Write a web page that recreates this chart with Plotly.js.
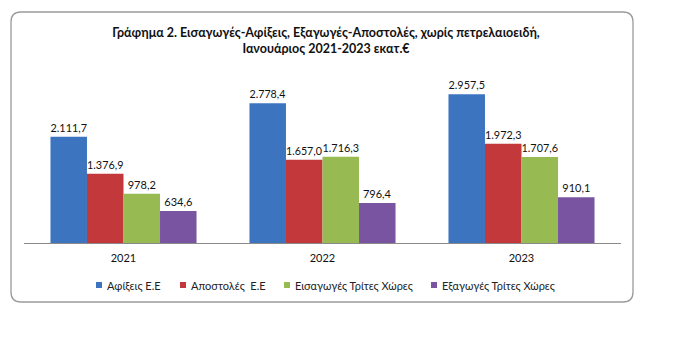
<!DOCTYPE html>
<html>
<head>
<meta charset="utf-8">
<script src="https://cdn.plot.ly/plotly-3.0.1.min.js"></script>
<style>html,body{margin:0;padding:0;background:#fff;}#chart{width:681px;height:357px;}</style>
</head>
<body>
<div id="chart"></div>
<script>
const years = ['2021', '2022', '2023'];
const seriesNames = ['Αφίξεις Ε.Ε', 'Αποστολές  Ε.Ε', 'Εισαγωγές Τρίτες Χώρες', 'Εξαγωγές Τρίτες Χώρες'];
const arrivalsEU = [2111.7, 2778.4, 2957.5];
const dispatchesEU = [1376.9, 1657.0, 1972.3];
const importsThird = [978.2, 1716.3, 1707.6];
const exportsThird = [634.6, 796.4, 910.1];
const seriesValues = [arrivalsEU, dispatchesEU, importsThird, exportsThird];
const colors = ['#3C74C0', '#C3393B', '#98BA53', '#7954A0'];
const titleText = 'Γράφημα 2. Εισαγωγές-Αφίξεις, Εξαγωγές-Αποστολές, χωρίς πετρελαιοειδή,<br>Ιανουάριος 2021-2023 εκατ.€';

const FONT = 'Lato, "Open Sans", sans-serif';
// plot area in pixels
const L = 24, R = 621, T = 82, B = 243, W = 681, H = 357;
const px2x = p => (p - L) / (R - L);
const py2y = p => (B - p) / (B - T);

function fmt(v) {
  const parts = v.toFixed(1).split('.');
  const intPart = parts[0].replace(/\B(?=(\d{3})+(?!\d))/g, '.');
  return intPart + ',' + parts[1];
}

const traces = seriesValues.map((vals, i) => ({
  type: 'bar',
  name: seriesNames[i],
  x: years,
  y: vals,
  marker: {color: colors[i], line: {width: 0}},
  text: vals.map(fmt),
  textposition: 'outside',
  textfont: {family: FONT, size: 11, color: '#111'},
  cliponaxis: false,
  showlegend: false,
  hoverinfo: 'skip'
}));

// rounded border path (paper coordinates)
const bx0 = 11, bx1 = 633, by0 = 12, by1 = 302, rad = 10;
const P = (x, y) => px2x(x).toFixed(5) + ',' + py2y(y).toFixed(5);
const borderPath = 'M' + P(bx0 + rad, by0) + ' L' + P(bx1 - rad, by0) +
  ' Q' + P(bx1, by0) + ' ' + P(bx1, by0 + rad) +
  ' L' + P(bx1, by1 - rad) +
  ' Q' + P(bx1, by1) + ' ' + P(bx1 - rad, by1) +
  ' L' + P(bx0 + rad, by1) +
  ' Q' + P(bx0, by1) + ' ' + P(bx0, by1 - rad) +
  ' L' + P(bx0, by0 + rad) +
  ' Q' + P(bx0, by0) + ' ' + P(bx0 + rad, by0) + ' Z';

const shapes = [{
  type: 'path', xref: 'paper', yref: 'paper', path: borderPath,
  line: {color: '#9a9a9a', width: 1.3}, fillcolor: 'rgba(0,0,0,0)', layer: 'below'
}];
const annotations = [];
const legendX = [96, 180, 284, 431];
const legendY = 285;
seriesNames.forEach((n, i) => {
  shapes.push({
    type: 'rect', xref: 'paper', yref: 'paper',
    x0: px2x(legendX[i]), x1: px2x(legendX[i] + 6),
    y0: py2y(legendY + 3), y1: py2y(legendY - 3),
    fillcolor: colors[i], line: {width: 0}
  });
  annotations.push({
    xref: 'paper', yref: 'paper', x: px2x(legendX[i] + 9), y: py2y(legendY),
    xanchor: 'left', yanchor: 'middle', showarrow: false,
    text: n, font: {family: FONT, size: 11, color: '#222'}
  });
});

const layout = {
  width: W, height: H,
  margin: {l: L, r: W - R, t: T, b: H - B, pad: 0},
  paper_bgcolor: '#fff', plot_bgcolor: '#fff',
  font: {family: FONT, size: 11, color: '#222'},
  title: {
    text: titleText,
    font: {family: FONT, size: 12.5, color: '#111', weight: 'bold'},
    x: 326 / W, xanchor: 'center', xref: 'container',
    y: 1 - 36.5 / H, yanchor: 'middle', yref: 'container'
  },
  barmode: 'group',
  bargap: 0.266,
  bargroupgap: 0,
  xaxis: {
    type: 'category',
    showline: true, linecolor: '#8a8a8a', linewidth: 1,
    ticks: '', showgrid: false, zeroline: false,
    ticklabelstandoff: 5,
    tickfont: {family: FONT, size: 11, color: '#111'}
  },
  yaxis: {range: [0, 3200], visible: false, showgrid: false, zeroline: false},
  showlegend: false,
  shapes: shapes,
  annotations: annotations
};

Plotly.newPlot('chart', traces, layout, {displayModeBar: false, staticPlot: true});
</script>
</body>
</html>
